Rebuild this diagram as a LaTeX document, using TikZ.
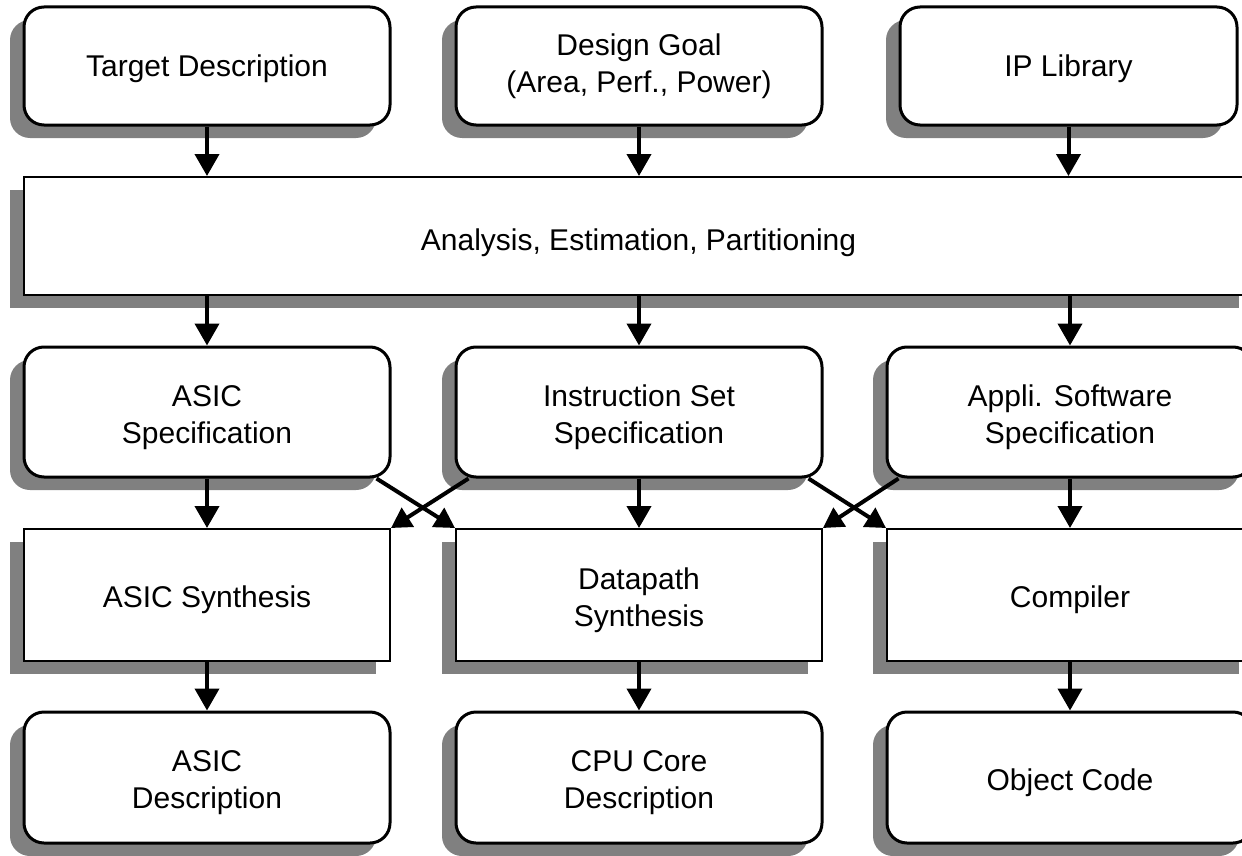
\documentclass[tikz,border=0pt]{standalone}
\usepackage{fontspec}
\setmainfont{Liberation Sans}
\usetikzlibrary{arrows.meta,shadows,calc}
\definecolor{shadowgray}{HTML}{808080}
\newcommand{\lft}[1]{\rule{0pt}{#1}}
\tikzset{
  boxfont/.style={font=\fontsize{22.5pt}{27.75pt}\selectfont, align=center, text=black},
  shd/.style={general shadow={fill=shadowgray, shadow xshift=-10.5pt, shadow yshift=-9.75pt}},
  rbox/.style={boxfont, shd, draw=black, fill=white, line width=2.25pt, rounded corners=15pt,
     minimum width=274.5pt, inner sep=0pt},
  sbox/.style={boxfont, shd, draw=black, fill=white, line width=1.5pt,
     minimum width=274.5pt, inner sep=0pt},
  flow/.style={line width=3pt, -{Triangle[width=18pt,length=16.5pt]}},
  cross/.style={line width=3pt, -{Triangle[width=16.5pt,length=15pt]}}
}
\begin{document}
\begin{tikzpicture}[x=0.75pt,y=-0.75pt]
\useasboundingbox (0,0) rectangle (1242,856);
\clip (0,0) rectangle (1242,856);
\fill[white] (0,0) rectangle (1242,856);
% row 1
\node[rbox, minimum height=88.5pt] (t1) at (207,66) {\lft{21pt}Target Description};
\node[rbox, minimum height=88.5pt] (t2) at (639,66) {Design Goal\\(Area, Perf., Power)};
\node[rbox, minimum height=88.5pt, minimum width=252.75pt] (t3) at (1068.5,66) {\lft{21pt}IP Library};
% row 2
\node[sbox, minimum height=88.5pt, minimum width=921.75pt] (ana) at (638.5,236) {\lft{26pt}Analysis, Estimation, Partitioning};
% row 3
\node[rbox, minimum height=97.5pt] (s1) at (207,412) {\lft{24.5pt}ASIC\\Specification};
\node[rbox, minimum height=97.5pt] (s2) at (639,412) {\lft{24.5pt}Instruction Set\\Specification};
\node[rbox, minimum height=97.5pt] (s3) at (1070,412) {\lft{24.5pt}Appli. Software\\Specification};
% row 4
\node[sbox, minimum height=99pt] (y1) at (207,595) {\lft{24pt}ASIC Synthesis};
\node[sbox, minimum height=99pt] (y2) at (639,595) {\lft{24pt}Datapath\\Synthesis};
\node[sbox, minimum height=99pt] (y3) at (1070,595) {\lft{24pt}Compiler};
% row 5
\node[rbox, minimum height=98.25pt] (o1) at (207,777.5) {\lft{24pt}ASIC\\Description};
\node[rbox, minimum height=98.25pt] (o2) at (639,777.5) {\lft{24pt}CPU Core\\Description};
\node[rbox, minimum height=98.25pt] (o3) at (1070,777.5) {\lft{24pt}Object Code};
% arrows
\draw[flow] (t1.south) -- (t1.south |- ana.north);
\draw[flow] (t2.south) -- (t2.south |- ana.north);
\draw[flow] (t3.south) -- (t3.south |- ana.north);
\draw[flow] (s1.north |- ana.south) -- (s1.north);
\draw[flow] (s2.north |- ana.south) -- (s2.north);
\draw[flow] (s3.north |- ana.south) -- (s3.north);
\draw[flow] (s1.south) -- (y1.north);
\draw[flow] (s2.south) -- (y2.north);
\draw[flow] (s3.south) -- (y3.north);
\draw[flow] (y1.south) -- (o1.north);
\draw[flow] (y2.south) -- (o2.north);
\draw[flow] (y3.south) -- (o3.north);
\draw[cross] ($(s1.south east)+(-15,0)$) -- (y2.north west);
\draw[cross] ($(s2.south west)+(14,0)$) -- (y1.north east);
\draw[cross] ($(s2.south east)+(-15,0)$) -- (y3.north west);
\draw[cross] ($(s3.south west)+(13,0)$) -- (y2.north east);
\end{tikzpicture}
\end{document}
